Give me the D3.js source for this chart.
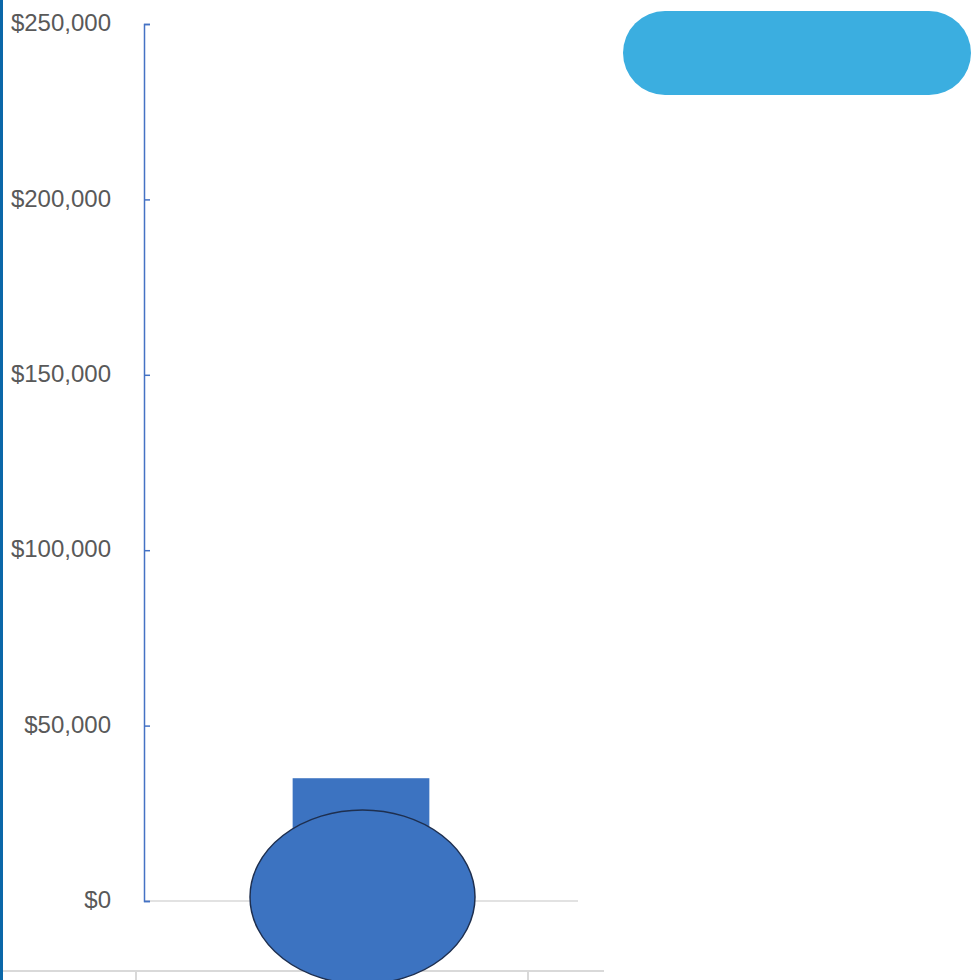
<!DOCTYPE html>
<html><head><meta charset="utf-8">
<script src="https://cdn.jsdelivr.net/npm/d3@7"></script>
<style>html,body{margin:0;padding:0;background:#fff;overflow:hidden}</style>
</head><body>
<svg id="c" width="971" height="980"></svg>
<script>
const categories = ["Raised"];
const raisedValues = [35000];
const yTicks = [0, 50000, 100000, 150000, 200000, 250000];

const svg = d3.select("#c");
const y = d3.scaleLinear().domain([0, 250000]).range([901, 24]);
const x = d3.scaleBand().domain(categories).range([144, 578]).paddingInner(0.685).paddingOuter(0.342);

// left frame border
svg.append("rect").attr("x",0).attr("y",0).attr("width",3).attr("height",980).attr("fill","#0b67a8");

// bottom secondary axis line & ticks
svg.append("line").attr("x1",3).attr("x2",604).attr("y1",971).attr("y2",971).attr("stroke","#d9d9d9").attr("stroke-width",2);
[136,528].forEach(t=>svg.append("line").attr("x1",t).attr("x2",t).attr("y1",971).attr("y2",980).attr("stroke","#d9d9d9").attr("stroke-width",2));

// zero baseline
svg.append("line").attr("x1",144).attr("x2",578).attr("y1",y(0)).attr("y2",y(0)).attr("stroke","#d9d9d9").attr("stroke-width",1.5);

// y axis
const yAxis = d3.axisRight(y).tickValues(yTicks).tickSize(6).tickFormat("");
const ga = svg.append("g").attr("transform","translate(144,0)").call(yAxis);
ga.select(".domain").attr("stroke","#4472c4").attr("stroke-width",1.5);
ga.selectAll(".tick line").attr("stroke","#4472c4").attr("stroke-width",1.5);

svg.append("g").selectAll("text").data(yTicks).join("text")
  .attr("x",111).attr("y",d=>y(d)).attr("dy","0.3em")
  .attr("text-anchor","end").attr("fill","#595959")
  .attr("font-family","'Liberation Sans', Arial, sans-serif").attr("font-size",24)
  .text(d=>d3.format("$,")(d));

// bar
svg.append("g").selectAll("rect").data(categories).join("rect")
  .attr("x",d=>x(d)).attr("width",x.bandwidth())
  .attr("y",(d,i)=>y(raisedValues[i])).attr("height",(d,i)=>y(0)-y(raisedValues[i]))
  .attr("fill","#3c73c1");

// bulb
svg.append("g").selectAll("ellipse").data(categories).join("ellipse")
  .attr("cx",d=>x(d)+x.bandwidth()/2+1.5).attr("cy",y(0)-4)
  .attr("rx",112.5).attr("ry",87)
  .attr("fill","#3c73c1").attr("stroke","#1e2f4f").attr("stroke-width",1.5);

// rounded title pill
svg.append("rect").attr("x",623).attr("y",11).attr("width",348).attr("height",84)
  .attr("rx",42).attr("ry",42).attr("fill","#3baee0");
</script>
</body></html>
